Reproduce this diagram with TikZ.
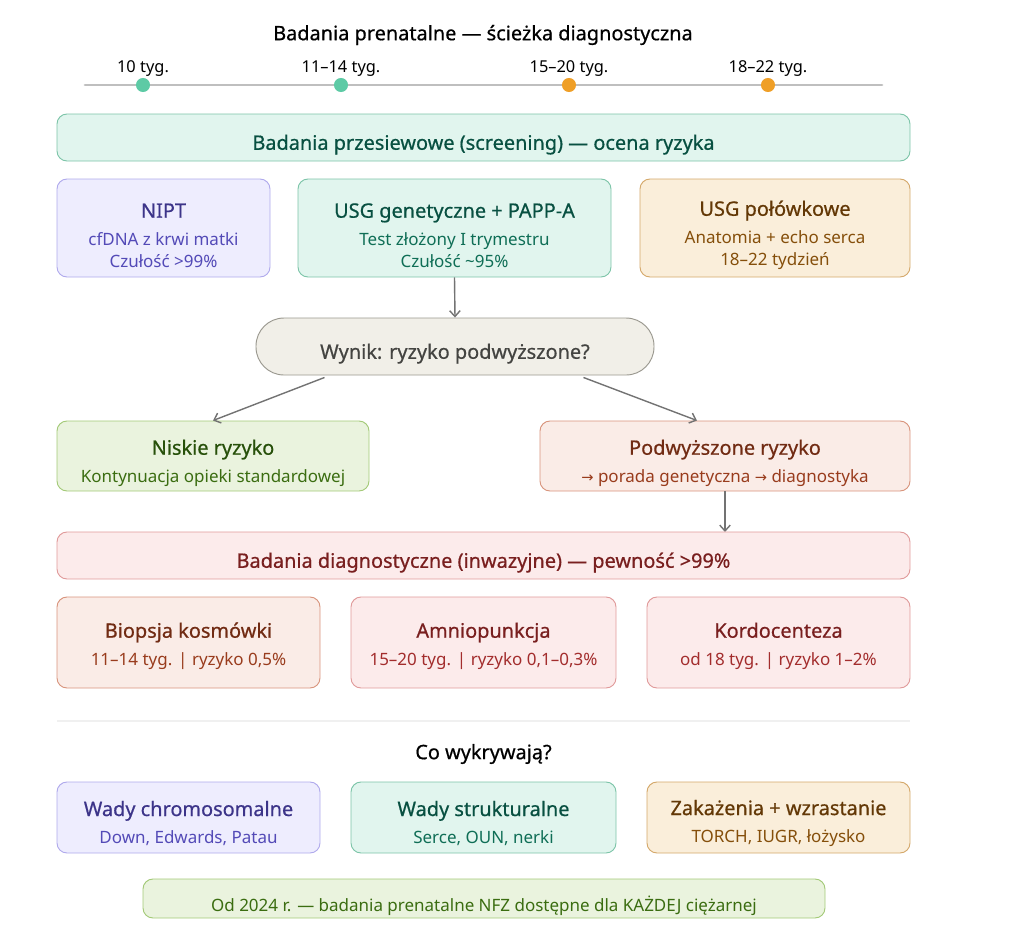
\documentclass[tikz,border=0pt]{standalone}
\usepackage{fontspec}
\setmainfont{Noto Sans}
\newfontfamily\headfont[FakeBold=0.6]{Noto Sans}
\newfontfamily\symfont{DejaVu Sans}
\usetikzlibrary{arrows.meta}

\definecolor{purFill}{HTML}{EEEDFE}\definecolor{purDraw}{HTML}{AFA9EC}
\definecolor{purHead}{HTML}{3C3489}\definecolor{purSub}{HTML}{534AB7}
\definecolor{tealFill}{HTML}{E1F5EE}\definecolor{tealDraw}{HTML}{7CC4A8}
\definecolor{tealHead}{HTML}{085041}\definecolor{tealSub}{HTML}{0F6E56}
\definecolor{ambFill}{HTML}{FAEEDA}\definecolor{ambDraw}{HTML}{D4A86A}
\definecolor{ambHead}{HTML}{633806}\definecolor{ambSub}{HTML}{854F0B}
\definecolor{grayFill}{HTML}{F1EFE8}\definecolor{grayDraw}{HTML}{9A988F}
\definecolor{grayHead}{HTML}{444441}
\definecolor{grnFill}{HTML}{EAF3DE}\definecolor{grnDraw}{HTML}{A3C977}
\definecolor{grnHead}{HTML}{27500A}\definecolor{grnSub}{HTML}{3B6D11}
\definecolor{corFill}{HTML}{FAECE7}\definecolor{corDraw}{HTML}{D8947C}
\definecolor{corHead}{HTML}{712B13}\definecolor{corSub}{HTML}{993C1D}
\definecolor{redFill}{HTML}{FCEBEB}\definecolor{redDraw}{HTML}{E09A9A}
\definecolor{redHead}{HTML}{791F1F}\definecolor{redSub}{HTML}{A32D2D}
\definecolor{dotTeal}{HTML}{5DCAA5}\definecolor{dotAmb}{HTML}{EF9F27}

\newcommand{\headtxt}{\headfont\fontsize{17}{19}\selectfont}
\newcommand{\cardhead}[1][25pt]{\headtxt\rule{0pt}{#1}}
\newcommand{\subtxt}{\fontsize{14.5}{18.7}\selectfont}
\newcommand{\arr}{{\symfont\fontsize{12.5}{14}\selectfont →}}

\tikzset{
  card/.style={rounded corners=8.5pt, line width=0.8pt, align=center, inner sep=0pt, font=\subtxt},
  pur/.style={card, fill=purFill, draw=purDraw},
  teal/.style={card, fill=tealFill, draw=tealDraw},
  amb/.style={card, fill=ambFill, draw=ambDraw},
  grn/.style={card, fill=grnFill, draw=grnDraw},
  cor/.style={card, fill=corFill, draw=corDraw},
  rd/.style={card, fill=redFill, draw=redDraw},
  flow/.style={draw=black!55, line width=1.2pt, -{Straight Barb[length=5pt,width=9pt]}},
}

\begin{document}
\begin{tikzpicture}[x=0.03cm,y=-0.03cm]
\useasboundingbox (0,0) rectangle (1024,939);

% title and timeline
\node (title) at (483,35) {\headtxt Badania prenatalne — ścieżka diagnostyczna};
\draw[black!25, line width=2.5pt, line cap=round] (85,85) -- (882,85);
\foreach \px/\lab/\col [count=\i] in {143/10 tyg./dotTeal, 341/11–14 tyg./dotTeal, 569/15–20 tyg./dotAmb, 768/18–22 tyg./dotAmb}{
  \fill[\col] (\px,85) circle (6pt);
  \node[font=\fontsize{14}{16}\selectfont] (week\i) at (\px,69) {\lab};
}

% screening
\node[teal, minimum width=853*0.03cm, minimum height=47*0.03cm] (screen) at (483.5,137.5)
  {\cardhead\color{tealHead}Badania przesiewowe (screening) — ocena ryzyka};
\node[pur, minimum width=213*0.03cm, minimum height=98*0.03cm] (nipt) at (163.5,228)
  {\cardhead\color{purHead}NIPT\\[5pt]\color{purSub}cfDNA z krwi matki\\\color{purSub}Czułość >99\%};
\node[teal, minimum width=313*0.03cm, minimum height=98*0.03cm] (usggen) at (454.5,228)
  {\cardhead\color{tealHead}USG genetyczne + PAPP-A\\[5pt]\color{tealSub}Test złożony I trymestru\\\color{tealSub}Czułość \textasciitilde95\%};
\node[amb, minimum width=270*0.03cm, minimum height=98*0.03cm] (usgpol) at (775,228)
  {\cardhead\color{ambHead}USG połówkowe\\[5pt]\color{ambSub}Anatomia + echo serca\\\color{ambSub}18–22 tydzień};

% decision
\node[card, rounded corners=28*0.03cm, fill=grayFill, draw=grayDraw, minimum width=398*0.03cm, minimum height=57*0.03cm] (wynik) at (455,346.5)
  {\cardhead\color{grayHead}Wynik: ryzyko podwyższone?};
\node[grn, minimum width=312*0.03cm, minimum height=70*0.03cm] (low) at (213,456)
  {\cardhead\color{grnHead}Niskie ryzyko\\[5pt]\color{grnSub}Kontynuacja opieki standardowej};
\node[cor, minimum width=370*0.03cm, minimum height=70*0.03cm] (high) at (725,456)
  {\cardhead\color{corHead}Podwyższone ryzyko\\[5pt]\color{corSub}\arr{} porada genetyczna \arr{} diagnostyka};

\draw[flow] (usggen.south) -- (wynik.north);
\draw[flow] (wynik.south west) ++(69,2) coordinate (wl) (wl) -- (low.north);
\draw[flow] (wynik.south east) ++(-71,2) coordinate (wr) (wr) -- (high.north -| 697,0);
\draw[flow] (high.south) -- (725,532);

% diagnostic
\node[rd, minimum width=853*0.03cm, minimum height=47*0.03cm] (diag) at (483.5,555.5)
  {\cardhead\color{redHead}Badania diagnostyczne (inwazyjne) — pewność >99\%};
\node[cor, minimum width=263*0.03cm, minimum height=91*0.03cm] (cvs) at (188.5,642.5)
  {\cardhead[19pt]\color{corHead}Biopsja kosmówki\\[5pt]\color{corSub}11–14 tyg. | ryzyko 0,5\%};
\node[rd, minimum width=265*0.03cm, minimum height=91*0.03cm] (amnio) at (483.5,642.5)
  {\cardhead[19pt]\color{redHead}Amniopunkcja\\[5pt]\color{redSub}15–20 tyg. | ryzyko 0,1–0,3\%};
\node[rd, minimum width=263*0.03cm, minimum height=91*0.03cm] (kordo) at (778.5,642.5)
  {\cardhead[19pt]\color{redHead}Kordocenteza\\[5pt]\color{redSub}od 18 tyg. | ryzyko 1–2\%};

% what they detect
\draw[black!6, line width=1pt] (57,721) -- (910,721);
\node (detect) at (483.5,754) {\headtxt Co wykrywają?};
\node[pur, minimum width=263*0.03cm, minimum height=71*0.03cm] (chromo) at (188.5,817.5)
  {\cardhead[23pt]\color{purHead}Wady chromosomalne\\[5pt]\color{purSub}Down, Edwards, Patau};
\node[teal, minimum width=265*0.03cm, minimum height=71*0.03cm] (struct) at (483.5,817.5)
  {\cardhead[23pt]\color{tealHead}Wady strukturalne\\[5pt]\color{tealSub}Serce, OUN, nerki};
\node[amb, minimum width=263*0.03cm, minimum height=71*0.03cm] (infect) at (778.5,817.5)
  {\cardhead[23pt]\color{ambHead}Zakażenia + wzrastanie\\[5pt]\color{ambSub}TORCH, IUGR, łożysko};
\node[grn, minimum width=682*0.03cm, minimum height=39*0.03cm] (nfz) at (484,898.5)
  {\rule{0pt}{26pt}\color{grnSub}Od 2024 r. — badania prenatalne NFZ dostępne dla KAŻDEJ ciężarnej};
\end{tikzpicture}
\end{document}
